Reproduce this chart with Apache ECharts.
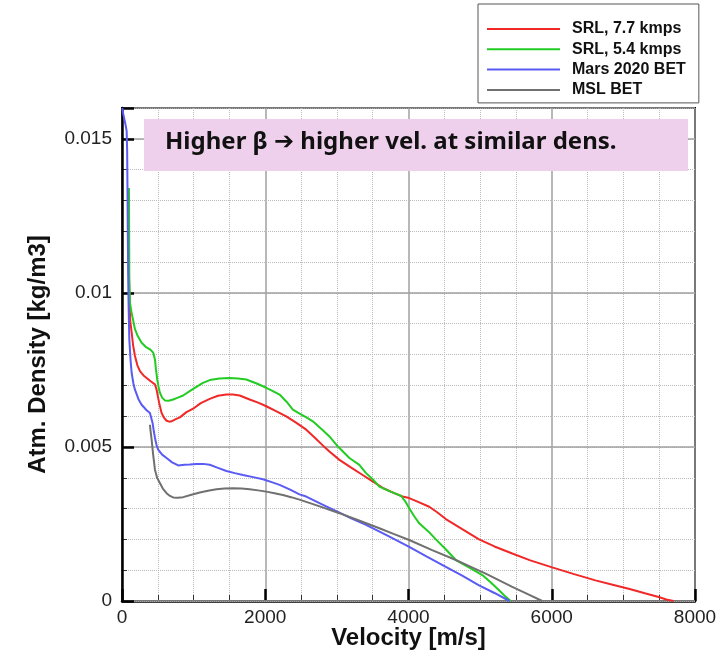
<!DOCTYPE html>
<html lang="en">
<head>
    <meta charset="UTF-8">
    <title>Atm. Density vs Velocity</title>
    <script src="https://cdn.jsdelivr.net/npm/echarts@6/dist/echarts.min.js"></script>
    <style>
        html, body { margin: 0; padding: 0; background: #fff; }
    </style>
</head>
<body>
    <div id="main" style="width: 725px;height:651px;"></div>
    <script type="text/javascript">
    // series names (legend order)
    var seriesNames = ['SRL, 7.7 kmps', 'SRL, 5.4 kmps', 'Mars 2020 BET', 'MSL BET'];
    var seriesColors = ['#f02828', '#22cc22', '#5a5af5', '#707070'];

    // velocity [m/s] / density [kg/m3 * 1e-3]
    var srl77Vel = [96, 104, 115, 135, 155, 181, 215, 251, 300, 344, 400, 460, 483, 500, 519, 553, 585, 622, 660, 692,
        750, 808, 900, 993, 1100, 1225, 1340, 1458, 1550, 1643, 1782, 1900, 2015, 2150, 2293, 2430, 2572, 2700, 2803, 2896,
        3036, 3200, 3360, 3499, 3650, 3800, 3917, 4010, 4150, 4289, 4400, 4521, 4750, 4985, 5200, 5449, 5700, 6006, 6300, 6610,
        6850, 7074, 7300, 7492, 7600, 7700];
    var srl77Dens = [10.8, 9.8, 9.1, 8.71, 8.3, 7.95, 7.65, 7.46, 7.32, 7.24, 7.13, 7.03, 6.86, 6.65, 6.43, 6.10, 5.95, 5.85, 5.82, 5.83,
        5.9, 5.96, 6.13, 6.24, 6.42, 6.56, 6.66, 6.70, 6.70, 6.67, 6.54, 6.44, 6.32, 6.16, 5.99, 5.79, 5.56, 5.28, 5.05, 4.85,
        4.58, 4.33, 4.09, 3.88, 3.66, 3.50, 3.39, 3.34, 3.20, 3.06, 2.88, 2.66, 2.33, 2.0, 1.77, 1.54, 1.32, 1.09, 0.88, 0.67,
        0.53, 0.40, 0.25, 0.13, 0.05, 0.0];

    var srl54Vel = [97, 100, 102, 111, 130, 157, 181, 220, 274, 330, 390, 436, 460, 475, 492, 510, 529, 560, 599, 650,
        714, 780, 854, 950, 1040, 1130, 1225, 1360, 1504, 1620, 1736, 1880, 2015, 2100, 2200, 2300, 2385, 2480, 2580, 2664,
        2800, 2896, 3012, 3175, 3314, 3407, 3500, 3593, 3750, 3895, 3950, 4010, 4080, 4150, 4280, 4382, 4520, 4661, 4850, 5031,
        5150, 5264, 5350, 5427];
    var srl54Dens = [13.4, 12.0, 10.45, 9.69, 9.4, 9.1, 8.82, 8.6, 8.38, 8.25, 8.17, 8.06, 7.84, 7.5, 7.19, 6.95, 6.76, 6.6, 6.51, 6.50,
        6.54, 6.6, 6.67, 6.82, 6.95, 7.08, 7.17, 7.22, 7.24, 7.22, 7.19, 7.06, 6.92, 6.82, 6.70, 6.46, 6.21, 6.08, 5.95, 5.83,
        5.55, 5.34, 5.02, 4.64, 4.42, 4.15, 3.95, 3.71, 3.55, 3.41, 3.25, 3.01, 2.75, 2.52, 2.25, 2.0, 1.68, 1.33, 1.08, 0.84,
        0.6, 0.35, 0.15, 0.0];

    var m2020Vel = [5, 18, 50, 65, 72, 76, 80, 86, 92, 102, 120, 135, 160, 181, 230, 274, 340, 390, 414, 427,
        445, 460, 480, 505, 560, 622, 700, 784, 870, 947, 1040, 1132, 1225, 1330, 1458, 1575, 1689, 1830, 1968, 2100,
        2200, 2340, 2478, 2572, 2800, 3036, 3200, 3407, 3700, 4010, 4250, 4521, 4750, 4985, 5200, 5410];
    var m2020Dens = [16.0, 15.8, 15.45, 15.25, 14.6, 13.5, 12.3, 10.6, 9.6, 8.5, 7.8, 7.4, 7.05, 6.86, 6.55, 6.37, 6.2, 6.1, 6.05, 5.78,
        5.5, 5.3, 5.08, 4.91, 4.75, 4.64, 4.5, 4.40, 4.42, 4.43, 4.45, 4.45, 4.42, 4.33, 4.22, 4.15, 4.09, 4.02, 3.95, 3.85,
        3.77, 3.62, 3.46, 3.39, 3.13, 2.87, 2.68, 2.47, 2.13, 1.76, 1.45, 1.11, 0.82, 0.51, 0.26, 0.0];

    var mslVel = [390, 400, 414, 435, 460, 490, 529, 570, 622, 670, 714, 780, 854, 970, 1086, 1200, 1319, 1430, 1550, 1670,
        1782, 1900, 2015, 2130, 2246, 2360, 2478, 2750, 3036, 3300, 3593, 3800, 4010, 4330, 4661, 4870, 5078, 5260, 5449, 5650,
        5867];
    var mslDens = [5.72, 5.5, 5.23, 4.75, 4.26, 4.0, 3.83, 3.65, 3.50, 3.41, 3.36, 3.35, 3.37, 3.45, 3.52, 3.58, 3.63, 3.65, 3.66, 3.65,
        3.63, 3.59, 3.55, 3.50, 3.44, 3.37, 3.29, 3.08, 2.85, 2.62, 2.36, 2.17, 1.98, 1.65, 1.33, 1.11, 0.89, 0.68, 0.46, 0.24,
        0.0];

    var noteText = 'Higher β ➔ higher vel. at similar dens.';

    function pairs(vel, dens) {
        var out = [];
        for (var i = 0; i < vel.length; i++) {
            out.push([vel[i], dens[i] / 1000]);
        }
        return out;
    }

    var allVel = [srl77Vel, srl54Vel, m2020Vel, mslVel];
    var allDens = [srl77Dens, srl54Dens, m2020Dens, mslDens];
    var series = [];
    for (var k = 0; k < seriesNames.length; k++) {
        series.push({
            name: seriesNames[k],
            type: 'line',
            symbol: 'none',
            smooth: false,
            yAxisIndex: 0,
            data: pairs(allVel[k], allDens[k]),
            lineStyle: { color: seriesColors[k], width: 2 },
            itemStyle: { color: seriesColors[k] },
            z: 5 + k
        });
    }

    var labelFont = 'Liberation Sans, Arial, sans-serif';
    var myChart = echarts.init(document.getElementById('main'));
    var option = {
        animation: false,
        backgroundColor: '#fff',
        grid: {
            left: 122, right: 30, top: 108, bottom: 50,
            show: true, borderColor: '#000', borderWidth: 2,
            containLabel: false,
            outerBoundsMode: 'none'
        },
        legend: {
            orient: 'vertical',
            left: 478, top: 4,
            padding: [17, 13, 5, 9],
            itemGap: 4.3,
            itemWidth: 73,
            itemHeight: 2,
            icon: 'rect',
            borderColor: '#555',
            borderWidth: 1,
            backgroundColor: '#fff',
            data: seriesNames,
            textStyle: {
                fontFamily: labelFont, fontWeight: 'bold', fontSize: 16, color: '#111',
                lineHeight: 16,
                padding: [0, 0, 0, 7]
            }
        },
        xAxis: {
            type: 'value',
            min: 0, max: 8000, interval: 2000,
            name: 'Velocity [m/s]',
            nameLocation: 'middle',
            nameGap: 25,
            nameMoveOverlap: false,
            nameTextStyle: { fontFamily: labelFont, fontWeight: 'bold', fontSize: 24, color: '#111' },
            axisLine: { show: true, lineStyle: { color: '#000', width: 2.5 } },
            axisTick: { show: true, inside: true, length: 12, lineStyle: { color: '#000', width: 2.5 } },
            minorTick: { show: true, splitNumber: 4, length: 6, lineStyle: { color: '#333', width: 1 } },
            axisLabel: {
                fontFamily: labelFont, fontSize: 19, color: '#222', margin: 7,
                formatter: function (v) { return String(v); }
            },
            splitLine: { show: true, lineStyle: { color: '#a0a0a0', width: 1.5 } },
            minorSplitLine: { show: true, lineStyle: { color: '#bbb', width: 1, type: 'dotted' } }
        },
        yAxis: [
            {
                type: 'value',
                min: 0, max: 0.016, interval: 0.005,
                position: 'left',
                name: 'Atm. Density [kg/m3]',
                nameLocation: 'middle',
                nameGap: 72,
                nameMoveOverlap: false,
                nameTextStyle: { fontFamily: labelFont, fontWeight: 'bold', fontSize: 24, color: '#111' },
                axisLine: { show: true, lineStyle: { color: '#000', width: 2.5 } },
                axisTick: { show: true, inside: true, length: 12, lineStyle: { color: '#000', width: 2.5 } },
                axisLabel: {
                    fontFamily: labelFont, fontSize: 19, color: '#222', margin: 10,
                    formatter: function (v) {
                        if (v > 0.0155) return '';
                        return String(+v.toFixed(3));
                    }
                },
                splitLine: { show: true, lineStyle: { color: '#a0a0a0', width: 1.5 } },
                z: 3
            },
            {
                type: 'value',
                min: 0, max: 0.016, interval: 0.001,
                position: 'left',
                axisLine: { show: false },
                axisTick: { show: true, inside: true, length: 5, lineStyle: { color: '#333', width: 1 } },
                axisLabel: { show: false },
                splitLine: { show: true, lineStyle: { color: '#bbb', width: 1, type: 'dotted' } },
                z: 2
            }
        ],
        graphic: [
            {
                type: 'rect',
                left: 144, top: 119,
                shape: { width: 544, height: 52 },
                style: { fill: '#efd0ec' },
                z: 100
            },
            {
                type: 'text',
                left: 165, top: 130,
                style: {
                    text: noteText,
                    font: 'bold 24px "Noto Sans", "DejaVu Sans", sans-serif',
                    fill: '#111'
                },
                z: 101
            }
        ],
        series: series
    };
    myChart.setOption(option);
    </script>
</body>
</html>
